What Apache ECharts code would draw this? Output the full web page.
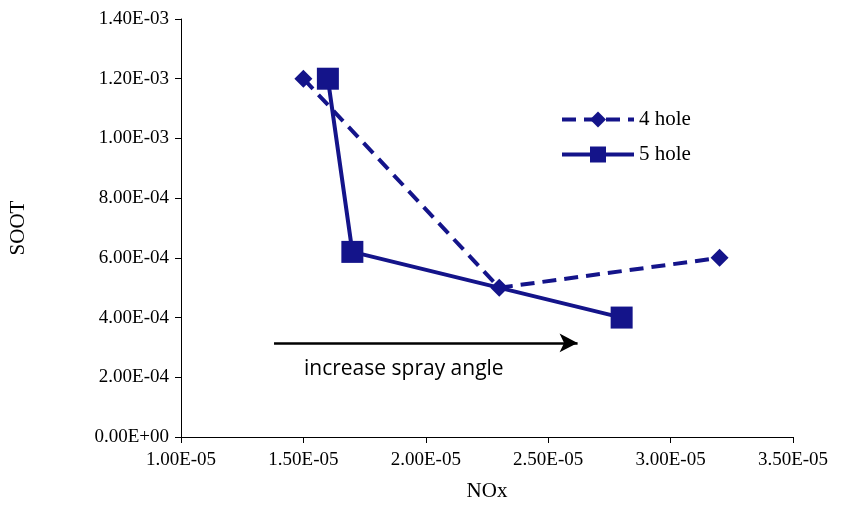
<!DOCTYPE html>
<html><head><meta charset="utf-8">
<script src="https://cdn.jsdelivr.net/npm/echarts@6/dist/echarts.min.js"></script>
<style>html,body{margin:0;background:#fff}#main{width:844px;height:527px}</style>
</head><body><div id="main"></div>
<script>
const hole4 = [[1.5e-5, 1.2e-3], [2.3e-5, 5.0e-4], [3.2e-5, 6.0e-4]]
const hole5 = [[1.6e-5, 1.2e-3], [1.7e-5, 6.2e-4], [2.8e-5, 4.0e-4]]
const arrowFrom = [1.38e-5, 3.15e-4]
const arrowTo = [2.62e-5, 3.15e-4]

function sci(v) {
  if (v === 0) return '0.00E+00'
  const s = v.toExponential(2).toUpperCase()
  const [m, e] = s.split('E')
  const n = parseInt(e, 10)
  return m + 'E' + (n < 0 ? '-' : '+') + String(Math.abs(n)).padStart(2, '0')
}

const color = '#14148a'
const font = 'Liberation Serif'
const chart = echarts.init(document.getElementById('main'))
chart.setOption({
  textStyle: { fontFamily: font },
  animation: false,
  grid: { left: 181, right: 51, top: 19, bottom: 90 },
  legend: {
    orient: 'vertical', left: 555, top: 104, itemWidth: 72, itemHeight: 20, itemGap: 14,
    lineStyle: { width: 4 },
    textStyle: { fontFamily: font, fontSize: 21, color: '#000' }
  },
  xAxis: {
    type: 'value', min: 1e-5, max: 3.5e-5, interval: 5e-6,
    name: 'NOx', nameLocation: 'middle', nameGap: 44,
    nameTextStyle: { fontFamily: font, fontSize: 21, color: '#000' },
    axisLine: { lineStyle: { color: '#000' } },
    axisTick: { lineStyle: { color: '#000' }, length: 6 },
    splitLine: { show: false },
    axisLabel: { formatter: sci, fontFamily: font, fontSize: 19, color: '#000', margin: 14 }
  },
  yAxis: {
    type: 'value', min: 0, max: 1.4e-3, interval: 2e-4,
    name: 'SOOT', nameLocation: 'middle', nameGap: 152,
    nameTextStyle: { fontFamily: font, fontSize: 21, color: '#000' },
    axisLine: { show: true, lineStyle: { color: '#000' } },
    axisTick: { show: true, lineStyle: { color: '#000' }, length: 6 },
    splitLine: { show: false },
    axisLabel: { formatter: sci, fontFamily: font, fontSize: 19, color: '#000', margin: 12 }
  },
  series: [
    {
      name: '4 hole', type: 'line', data: hole4, symbol: 'diamond', symbolSize: 18,
      lineStyle: { color, width: 4, type: [14, 8] }, itemStyle: { color }
    },
    {
      name: '5 hole', type: 'line', data: hole5, symbol: 'rect', symbolSize: 22,
      lineStyle: { color, width: 4 }, itemStyle: { color },
      markLine: {
        silent: true, symbol: ['none', 'arrow'], symbolSize: [14, 18],
        lineStyle: { color: '#000', width: 2.5, type: 'solid' },
        label: { show: false },
        data: [[{ coord: arrowFrom }, { coord: arrowTo }]]
      }
    }
  ],
  graphic: [{
    type: 'text', left: 304, top: 359,
    style: { text: 'increase spray angle', font: '21px "Open Sans", sans-serif', fill: '#000' }
  }]
})
</script></body></html>
